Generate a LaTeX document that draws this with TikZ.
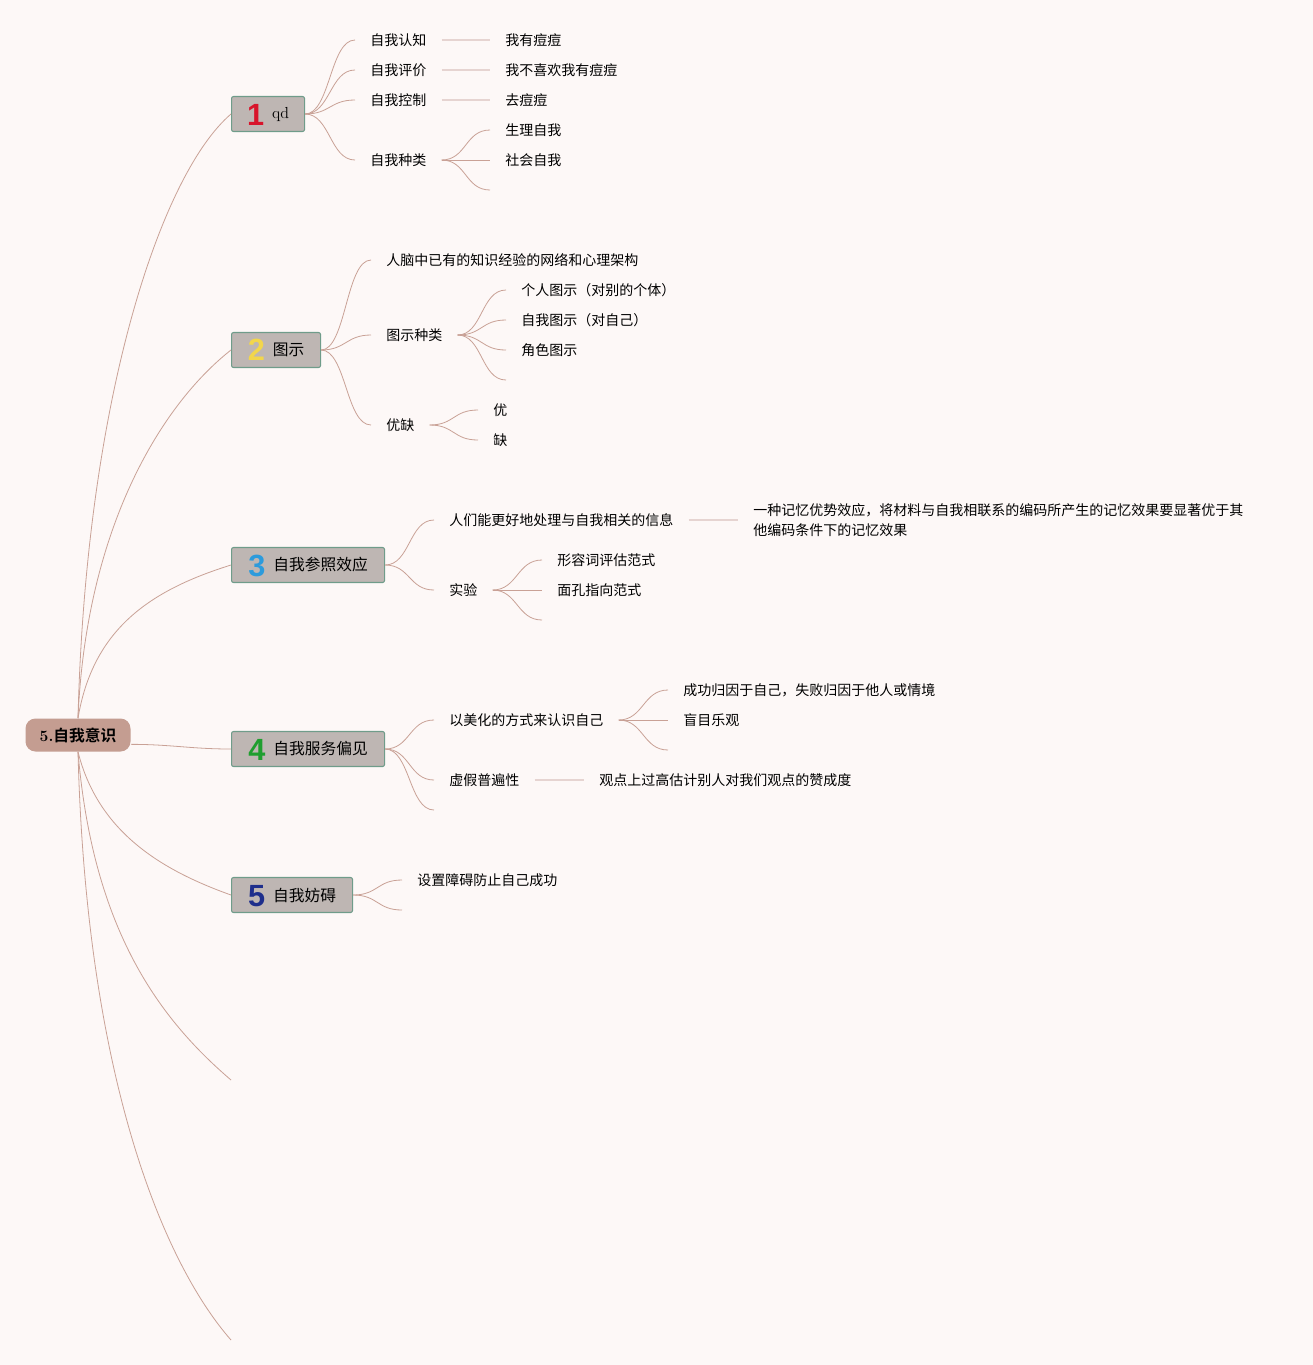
\documentclass[tikz,border=0pt]{standalone}
\usepackage{fontspec}
\newfontfamily\cjk{Noto Sans CJK SC}[BoldFont={Noto Sans CJK SC Bold}]
\newfontfamily\numfont{Liberation Sans}
\definecolor{paper}{HTML}{FDF8F7}
\definecolor{linec}{HTML}{C9A196}
\definecolor{barc}{HTML}{E6D4D1}
\definecolor{rootfill}{HTML}{C49D91}
\definecolor{boxfill}{HTML}{BEB6B3}
\definecolor{boxedge}{HTML}{6F9C8A}
\definecolor{numred}{HTML}{D8142B}
\definecolor{numyellow}{HTML}{F2D64C}
\definecolor{numblue}{HTML}{2C9BDC}
\definecolor{numgreen}{HTML}{1F9E2F}
\definecolor{numnavy}{HTML}{1E2E8C}
\newcommand{\bignum}[2]{\smash{\raisebox{-3.8pt}{\numfont\bfseries\fontsize{23}{23}\selectfont\color{#1}#2}}\hspace{6pt}}
\begin{document}
\begin{tikzpicture}[x=0.75pt,y=-0.75pt,
    twig/.style={draw=linec, line width=0.6pt},
    bar/.style={draw=barc, line width=1.4pt},
    sbend/.style={to path={.. controls +(25,0) and +(-25,0) .. (\tikztotarget)}},
    topic/.style={anchor=west, draw=boxedge, fill=boxfill, rounded corners=1.5pt, line width=0.8pt,
      minimum height=26.25pt, inner xsep=4pt, font=\cjk\fontsize{11.8}{14}\selectfont},
    leaf/.style={anchor=west, inner xsep=11.25pt, inner ysep=1pt, font=\cjk\fontsize{10.5}{15}\selectfont}]
  \fill[paper] (0,0) rectangle (1313,1365);
  \useasboundingbox (0,0) rectangle (1313,1365);

  % root and main topics
  \node[fill=rootfill, rounded corners=7.5pt, minimum width=78.75pt, minimum height=24.75pt,
    font=\cjk\fontsize{11.8}{14}\selectfont] (root) at (78,735) {{\rmfamily\bfseries 5.}{\bfseries 自我意识}};
  \node[topic, minimum width=54.75pt] (b1) at (231,114) {\bignum{numred}{1}\raisebox{2pt}{\rmfamily\fontsize{12}{14}\selectfont qd}};
  \node[topic, minimum width=66.75pt] (b2) at (231,350) {\bignum{numyellow}{2}图示};
  \node[topic, minimum width=114.75pt] (b3) at (231,565) {\bignum{numblue}{3}自我参照效应};
  \node[topic, minimum width=114.75pt] (b4) at (231,749) {\bignum{numgreen}{4}自我服务偏见};
  \node[topic, minimum width=90.75pt] (b5) at (231,895) {\bignum{numnavy}{5}自我妨碍};
  \coordinate (b6) at (231,1080);
  \coordinate (b7) at (231,1340);

  \draw[twig] (root.north) .. controls +(8,-320) and +(-70,60) .. (b1.west);
  \draw[twig] (root.north) .. controls +(8,-190) and +(-70,55) .. (b2.west);
  \draw[twig] (root.north) .. controls +(15,-90) and +(-80,25) .. (b3.west);
  \draw[twig] ([yshift=-7pt]root.east) .. controls +(40,0) and +(-40,0) .. (b4.west);
  \draw[twig] (root.south) .. controls +(20,80) and +(-70,-25) .. (b5.west);
  \draw[twig] (root.south) .. controls +(15,180) and +(-70,-60) .. (b6);
  \draw[twig] (root.south) .. controls +(8,320) and +(-70,-80) .. (b7);

  % 1 qd
  \node[leaf] (c1a) at (355,40) {自我认知};
  \node[leaf] (c1b) at (355,70) {自我评价};
  \node[leaf] (c1c) at (355,100) {自我控制};
  \node[leaf] (c1d) at (355,160) {自我种类};
  \node[leaf] (d1a) at (490,40) {我有痘痘};
  \node[leaf] (d1b) at (490,70) {我不喜欢我有痘痘};
  \node[leaf] (d1c) at (490,100) {去痘痘};
  \node[leaf] (d1d) at (490,130) {生理自我};
  \node[leaf] (d1e) at (490,160) {社会自我};
  \coordinate (e1) at (490,190);
  \foreach \n in {c1a,c1b,c1c,c1d} \draw[twig] (b1.east) to[sbend] (\n.west);
  \draw[bar] (c1a.east) -- (d1a.west);
  \draw[bar] (c1b.east) -- (d1b.west);
  \draw[bar] (c1c.east) -- (d1c.west);
  \foreach \n in {d1d.west,d1e.west,e1} \draw[twig] (c1d.east) to[sbend] (\n);

  % 2 图示
  \node[leaf] (c2a) at (371,260) {人脑中已有的知识经验的网络和心理架构};
  \node[leaf] (c2b) at (371,335) {图示种类};
  \node[leaf] (c2c) at (371,425) {优缺};
  \node[leaf] (d2a) at (506,290) {个人图示（对别的个体）};
  \node[leaf] (d2b) at (506,320) {自我图示（对自己）};
  \node[leaf] (d2c) at (506,350) {角色图示};
  \coordinate (e2) at (506,380);
  \node[leaf] (d2d) at (478,410) {优};
  \node[leaf] (d2e) at (478,440) {缺};
  \foreach \n in {c2a,c2b,c2c} \draw[twig] (b2.east) to[sbend] (\n.west);
  \foreach \n in {d2a.west,d2b.west,d2c.west,e2} \draw[twig] (c2b.east) to[sbend] (\n);
  \foreach \n in {d2d,d2e} \draw[twig] (c2c.east) to[sbend] (\n.west);

  % 3 自我参照效应
  \node[leaf] (c3a) at (434,520) {人们能更好地处理与自我相关的信息};
  \node[leaf] (c3b) at (434,590) {实验};
  \node[leaf, align=left] (d3a) at (738,520) {一种记忆优势效应，将材料与自我相联系的编码所产生的记忆效果要显著优于其\\他编码条件下的记忆效果};
  \node[leaf] (d3b) at (542,560) {形容词评估范式};
  \node[leaf] (d3c) at (542,590) {面孔指向范式};
  \coordinate (e3) at (542,620);
  \foreach \n in {c3a,c3b} \draw[twig] (b3.east) to[sbend] (\n.west);
  \draw[bar] (c3a.east) -- (d3a.west);
  \foreach \n in {d3b.west,d3c.west,e3} \draw[twig] (c3b.east) to[sbend] (\n);

  % 4 自我服务偏见
  \node[leaf] (c4a) at (434,720) {以美化的方式来认识自己};
  \node[leaf] (c4b) at (434,780) {虚假普遍性};
  \coordinate (e4b) at (434,810);
  \node[leaf] (d4a) at (668,690) {成功归因于自己，失败归因于他人或情境};
  \node[leaf] (d4b) at (668,720) {盲目乐观};
  \coordinate (e4a) at (668,750);
  \node[leaf] (d4c) at (584,780) {观点上过高估计别人对我们观点的赞成度};
  \foreach \n in {c4a.west,c4b.west,e4b} \draw[twig] (b4.east) to[sbend] (\n);
  \foreach \n in {d4a.west,d4b.west,e4a} \draw[twig] (c4a.east) to[sbend] (\n);
  \draw[bar] (c4b.east) -- (d4c.west);

  % 5 自我妨碍
  \node[leaf] (c5a) at (402,880) {设置障碍防止自己成功};
  \coordinate (e5) at (402,910);
  \foreach \n in {c5a.west,e5} \draw[twig] (b5.east) to[sbend] (\n);
\end{tikzpicture}
\end{document}
